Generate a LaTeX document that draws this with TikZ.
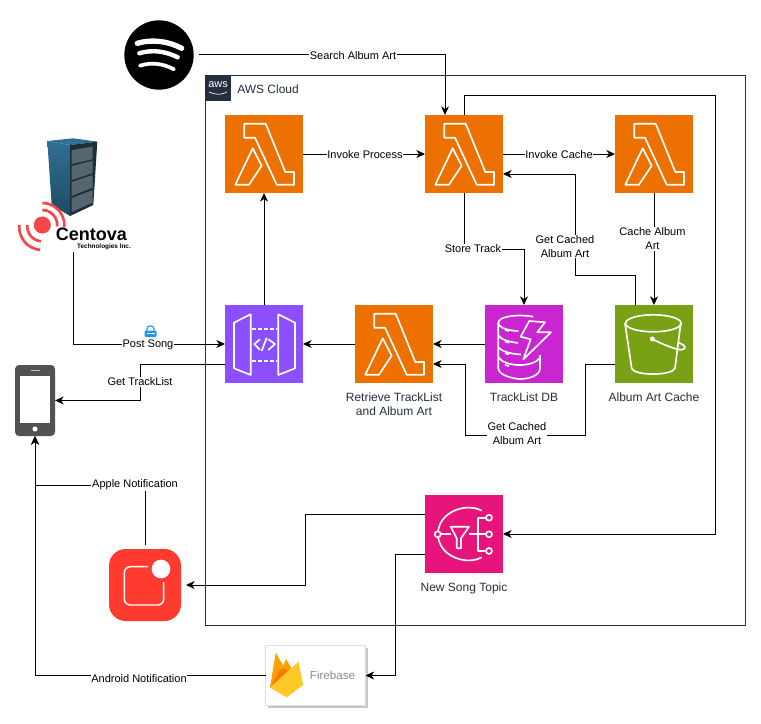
\documentclass[tikz,border=0pt]{standalone}
\usepackage{fontspec}
\setmainfont{Liberation Sans}
\usetikzlibrary{arrows.meta,positioning,shadows}
\definecolor{awsInk}{HTML}{232F3E}
\definecolor{lambdaOrange}{HTML}{ED7100}
\definecolor{apiPurple}{HTML}{8C4FFF}
\definecolor{dynamoPink}{HTML}{C925D1}
\definecolor{bucketGreen}{HTML}{7AA116}
\definecolor{topicPink}{HTML}{E7157B}
\definecolor{appleRed}{HTML}{FF3B30}
\definecolor{centovaRed}{HTML}{F44747}
\definecolor{rackBlue}{HTML}{2F6F94}
\definecolor{rackBottom}{HTML}{1F4A63}
\definecolor{rackDark}{HTML}{1D2F3B}
\definecolor{rackDrawer}{HTML}{56666F}
\definecolor{lockBlue}{HTML}{2196F3}
\definecolor{flameAmber}{HTML}{FFA000}
\definecolor{flameDark}{HTML}{F57C00}
\definecolor{flameYellow}{HTML}{FFCA28}
\tikzstyle{arrow} = [line width=0.75pt,-{Stealth[length=6.5pt,width=6pt,inset=2pt]},color=black]
\tikzstyle{awsicon} = [rectangle, minimum size=58.5pt, inner sep=0pt, outer sep=0pt]
\tikzstyle{edgelabel} = [fill=white, inner sep=0.6pt, align=center, font=\fontsize{8.25}{10.5}\selectfont]
\tikzstyle{iconlabel} = [inner sep=0pt, align=center, text=awsInk, font=\fontsize{9}{10.5}\selectfont]
\tikzstyle{glyph} = [draw=white, line width=1.25pt, line join=round]
\tikzset{
  lambdaglyph/.pic={
    \draw[glyph] (-19.7,-30.3) -- (1.7,-30.3) -- (21.3,18) -- (30,18) -- (30,30.7) -- (12.7,30.7) -- (-9,-16.3) -- (-19.7,-16.3) -- cycle;
    \draw[glyph] (-11.3,-5.7) -- (-2.3,11.7) -- (-15,30.7) -- (-28.7,30.7) -- cycle;
  },
  gatewayglyph/.pic={
    \draw[glyph] (-30,-21.3) -- (-13.3,-29.7) -- (-13.3,31) -- (-30,24.3) -- cycle;
    \draw[glyph] (14.3,-29.7) -- (31,-21.3) -- (31,24.3) -- (14.3,31) -- cycle;
    \draw[glyph, dash pattern=on 3pt off 1.5pt] (-11.7,-14.7) -- (12.7,-14.7);
    \draw[glyph, dash pattern=on 3pt off 1.5pt] (-11.7,17) -- (12.7,17);
    \draw[glyph] (-4,-4.7) -- (-9.7,0) -- (-4,6);
    \draw[glyph] (4.3,-4.7) -- (11,0) -- (4.3,6);
    \draw[glyph] (2.7,-6.3) -- (-2.3,7);
  },
  dynamoglyph/.pic={
    \draw[glyph] (9.3,-27.3) .. controls (-5,-30) and (-25.7,-28) .. (-25.7,-21.3) .. controls (-25.7,-16) and (-14,-13) .. (-5.7,-13);
    \draw[glyph] (-25.7,-21.3) -- (-25.7,24.3) .. controls (-25.7,32) and (-8,35) .. (-4,35) .. controls (6,35) and (16,31) .. (16,24.3) -- (16,11);
    \draw[glyph] (-25.7,-9) .. controls (-22,-3) and (-12,-2) .. (-6,-1);
    \draw[glyph] (-25.7,3) .. controls (-22,8) and (-12,10) .. (-3,10.5);
    \draw[glyph] (-25.7,13) .. controls (-20,23) and (8,24) .. (16,14);
    \foreach \dashY in {-14,-2.3,9.3,21} {
      \draw[glyph] (-19,\dashY) -- (-15,\dashY+1);
    }
    \draw[glyph] (5.3,-23) -- (21,-21.7) -- (13.3,-11.7) -- (27,-11.7) -- (-0.7,15.3) -- (6.7,-4.7) -- (-3.3,-7.3) -- cycle;
  },
  bucketglyph/.pic={
    \draw[glyph] (-0.7,-20.7) ellipse[x radius=27.8, y radius=8.5];
    \draw[glyph] (-29,-20.7) -- (-22.3,24.3) .. controls (-20,32) and (18,32) .. (21,24.3) -- (26.7,-20.7);
    \draw[glyph] (-1.7,-5) .. controls (8,0) and (18,4) .. (24,5.3) .. controls (31,7) and (32,3) .. (30,1.5) .. controls (28,0) and (26,-1) .. (24.3,-1.3);
    \fill[white] (-1.7,-5) circle[radius=1.9pt];
  },
  topicglyph/.pic={
    \draw[glyph] (17.7,-23.3) .. controls (2,-32) and (-26,-22) .. (-26,0) .. controls (-26,22) and (2,32) .. (17.7,23.3);
    \draw[glyph, fill=topicPink] (-26.3,0.3) circle[radius=2.25pt];
    \draw[glyph] (-23,0.3) -- (-13,0.3);
    \draw[glyph] (-13.3,-7.3) -- (5,-7.3) -- (-3,4.3) -- (-3,14.3) -- (-7.3,14.3) -- (-7.3,4.3) -- cycle;
    \draw[glyph] (5,0.3) -- (22,0.3);
    \draw[glyph] (22,-16.3) -- (14.3,-16.3) -- (14.3,17) -- (22,17);
    \foreach \dotY in {-16.3,0.3,17} {
      \draw[glyph, fill=topicPink] (25,\dotY) circle[radius=2.25pt];
    }
  }
}

\begin{document}
\begin{tikzpicture}[x=0.75pt,y=-0.75pt]
    \useasboundingbox (0,0) rectangle (761,724);

    % cloud
    \node (awsCloud) [draw=awsInk, line width=0.75pt, minimum width=405pt, minimum height=412.5pt, inner sep=0pt, outer sep=0pt] at (475.5,350.5) {};
    \node (awsBadge) [fill=awsInk, minimum size=19pt, inner sep=0pt, outer sep=0pt, anchor=north west] at (awsCloud.north west) {};
    \node (awsWord) [text=white, inner sep=0pt, font=\fontsize{8.2}{9}\selectfont] at (218,85) {aws};
    \draw [white, line width=0.5pt] (209,92) .. controls (215,95) and (222,95) .. (227,92);
    \node (awsTitle) [text=awsInk, inner sep=0pt, anchor=west, font=\fontsize{9}{10}\selectfont] at (237,89) {AWS Cloud};

    % lambdas
    \node (invokeLambda) [awsicon, fill=lambdaOrange] at (264,154) {};
    \node (processLambda) [awsicon, fill=lambdaOrange] at (464,154) {};
    \node (cacheLambda) [awsicon, fill=lambdaOrange] at (654,154) {};
    \node (retrieveLambda) [awsicon, fill=lambdaOrange] at (394,344) {};
    \pic at (invokeLambda) {lambdaglyph};
    \pic at (processLambda) {lambdaglyph};
    \pic at (cacheLambda) {lambdaglyph};
    \pic at (retrieveLambda) {lambdaglyph};

    % second row
    \node (apiGateway) [awsicon, fill=apiPurple] at (264,344) {};
    \node (trackDb) [awsicon, fill=dynamoPink] at (524,344) {};
    \node (artBucket) [awsicon, fill=bucketGreen] at (654,344) {};
    \node (songTopic) [awsicon, fill=topicPink] at (464,534) {};
    \pic at (apiGateway) {gatewayglyph};
    \pic at (trackDb) {dynamoglyph};
    \pic at (artBucket) {bucketglyph};
    \pic at (songTopic) {topicglyph};

    \node (retrieveLabel) [iconlabel, below=6.8pt of retrieveLambda] {Retrieve TrackList\\and Album Art};
    \node (trackDbLabel) [iconlabel, below=6.8pt of trackDb] {TrackList DB};
    \node (artBucketLabel) [iconlabel, below=6.8pt of artBucket] {Album Art Cache};
    \node (songTopicLabel) [iconlabel, below=6.8pt of songTopic] {New Song Topic};

    % spotify
    \node (spotifyLogo) [circle, fill=black, minimum size=52pt, inner sep=0pt, outer sep=0pt] at (159,55) {};
    \draw [white, line width=4pt, line cap=round] (137.3,43.3) .. controls (152,39) and (168,41) .. (181.7,48.3);
    \draw [white, line width=3.3pt, line cap=round] (139.3,53.3) .. controls (152,49.5) and (165,51) .. (177.7,57.3);
    \draw [white, line width=2.8pt, line cap=round] (140,65.7) .. controls (151,62) and (163,63.5) .. (174,69.3);

    % centova
    \node (centovaLogo) [minimum width=90pt, minimum height=87.75pt, inner sep=0pt, outer sep=0pt] at (73,193.5) {};
    \shade [top color=rackBlue, middle color=rackDark!60!black, bottom color=rackBottom] (47.3,141) -- (70,145) -- (70,216) -- (51.7,205) -- cycle;
    \fill [rackBlue] (47.3,141) -- (73.3,138.3) -- (97.3,141.7) -- (70,145) -- cycle;
    \fill [rackDark] (70,145) -- (97.3,141.7) -- (93.3,205) -- (70,216) -- cycle;
    \foreach \yLeft/\yRight in {150/146.7,166/160.7,182/175,198/190} {
      \fill [rackDrawer] (71.7,\yLeft) -- (92.7,\yRight) -- (92.7,\yRight+12.5) -- (71.7,\yLeft+14) -- cycle;
    }
    \fill [centovaRed] (42.3,225) circle[radius=6.4pt];
    \draw [centovaRed, line width=2pt] (42.3,210) arc[start angle=90, end angle=-5, radius=11.25pt];
    \draw [centovaRed, line width=2pt] (42.3,203) arc[start angle=90, end angle=-5, radius=16.5pt];
    \draw [centovaRed, line width=2pt] (27.3,225) arc[start angle=175, end angle=265, radius=11.25pt];
    \draw [centovaRed, line width=2pt] (19.3,225) arc[start angle=175, end angle=265, radius=17.25pt];
    \node (centovaName) [inner sep=0pt, font=\fontsize{13.5}{14}\selectfont\bfseries] at (91.5,234.5) {Centova};
    \node (centovaSub) [inner sep=0pt, font=\fontsize{4.8}{6}\selectfont\bfseries] at (104,246.5) {Technologies Inc.};

    % phone
    \node (phoneDevice) [rectangle, rounded corners=3pt, fill=black!68, minimum width=30pt, minimum height=53.25pt, inner sep=0pt, outer sep=0pt] at (35,400.5) {};
    \fill [white] (20.3,376) rectangle (50,423);
    \fill [white] (35,429) circle[radius=1.9pt];
    \draw [black!25, line width=0.75pt] (30.5,370) -- (39.5,370);

    % apple
    \node (appleNotify) [rectangle, rounded corners=12.5pt, fill=appleRed, minimum size=54pt, inner sep=0pt, outer sep=0pt] at (145,585) {};
    \draw [white, line width=1.1pt, rounded corners=4.5pt] (148,566.7) -- (124.3,566.7) -- (124.3,605) -- (163.7,605) -- (163.7,582);
    \fill [white] (161,569) circle[radius=7pt];

    % firebase
    \node (firebaseBox) [draw=black!13, fill=white, line width=0.75pt, minimum width=75pt, minimum height=45pt, inner sep=0pt, outer sep=0pt, general shadow={fill=black!22, shadow xshift=1.5pt, shadow yshift=-1.5pt}] at (315.5,675.5) {};
    \fill [flameAmber] (270,687.7) -- (283,666) -- (286,659) -- (292,669) -- (290,690) -- cycle;
    \fill [flameAmber] (270,687.7) -- (275.7,652.7) -- (284.5,668) -- cycle;
    \fill [flameDark] (270,687.7) -- (279.3,670.5) -- (284,668) -- (288,671) -- cycle;
    \fill [flameYellow] (270,687.7) -- (298.3,661.7) -- (303.3,685) -- (286.7,697.3) -- cycle;
    \node (firebaseWord) [text=black!45, inner sep=0pt, font=\fontsize{8.7}{10}\selectfont] at (332.5,675) {Firebase};

    % arrows

    % top
    \coordinate (searchBend) at (445,55);
    \coordinate (processTop) at (445,115);
    \draw [arrow] ([xshift=3.75pt]spotifyLogo.east) -- (searchBend) -- (processTop);
    \draw [arrow] (apiGateway.north) -- (invokeLambda.south);
    \draw [arrow] (invokeLambda.east) -- (processLambda.west);
    \draw [arrow] (processLambda.east) -- (cacheLambda.west);
    \draw [arrow] (cacheLambda.south) -- (artBucket.north);

    % store track
    \coordinate (storeBend) at (464,249);
    \draw [arrow] (processLambda.south) -- (storeBend) -| (trackDb.north);

    % cached art
    \coordinate (cachedUpBend) at (575.5,275);
    \draw [arrow] ([xshift=-14.25pt]artBucket.north) |- (cachedUpBend) |- ([yshift=-15pt]processLambda.east);
    \coordinate (cachedDownA) at (585.5,435);
    \coordinate (cachedDownB) at (465.5,435);
    \draw [arrow] ([yshift=-15pt]artBucket.west) -| (cachedDownA) -- (cachedDownB) |- ([yshift=-15pt]retrieveLambda.east);

    % row
    \draw [arrow] (trackDb.west) -- (retrieveLambda.east);
    \draw [arrow] (retrieveLambda.west) -- (apiGateway.east);

    % left
    \draw [arrow] (centovaLogo.south) |- (apiGateway.west);
    \coordinate (trackListBend) at (140.5,400.5);
    \draw [arrow] ([yshift=-15pt]apiGateway.west) -| (trackListBend) -- (phoneDevice.east);

    % topic
    \coordinate (topicLoop) at (464,95.5);
    \coordinate (topicLoopEnd) at (715,95.5);
    \draw [arrow] (processLambda.north) -- (topicLoop) -- (topicLoopEnd) |- (songTopic.east);
    \coordinate (appleBend) at (305.5,585);
    \draw [arrow] ([yshift=15pt]songTopic.west) -| (appleBend) -- ([xshift=3.75pt]appleNotify.east);
    \coordinate (firebaseBend) at (395.5,675.5);
    \draw [arrow] ([yshift=-15pt]songTopic.west) -| (firebaseBend) -- (firebaseBox.east);

    % notifications
    \coordinate (appleUpBend) at (35,485);
    \draw [arrow] ([yshift=3pt]appleNotify.north) |- (appleUpBend) -- (phoneDevice.south);
    \draw [arrow] (firebaseBox.west) -| (phoneDevice.south);

    % labels
    \node (searchLabel) [edgelabel] at (353,56) {Search Album Art};
    \node (invokeProcessLabel) [edgelabel] at (365,155) {Invoke Process};
    \node (invokeCacheLabel) [edgelabel] at (559,155) {Invoke Cache};
    \node (cacheArtLabel) [edgelabel] at (652.5,239) {Cache Album\\Art};
    \node (storeLabel) [edgelabel] at (473,249) {Store Track};
    \node (getCachedTop) [edgelabel] at (565,246.5) {Get Cached\\Album Art};
    \node (getCachedBottom) [edgelabel] at (517,433.5) {Get Cached\\Album Art};
    \node (postLabel) [edgelabel] at (148,345) {Post Song};
    \node (trackListLabel) [edgelabel] at (140,382) {Get TrackList};
    \node (appleLabel) [edgelabel] at (135,485) {Apple Notification};
    \node (androidLabel) [edgelabel] at (139,679) {Android Notification};

    % lock
    \draw [lockBlue, line width=0.9pt] (147,331) -- (147,328.5) .. controls (147,325) and (154,325) .. (154,328.5) -- (154,331);
    \fill [lockBlue, rounded corners=0.8pt] (144.5,330.5) rectangle (156.5,337);
    \draw [white, line width=0.8pt] (146.5,333.7) -- (154.5,333.7);
\end{tikzpicture}
\end{document}
